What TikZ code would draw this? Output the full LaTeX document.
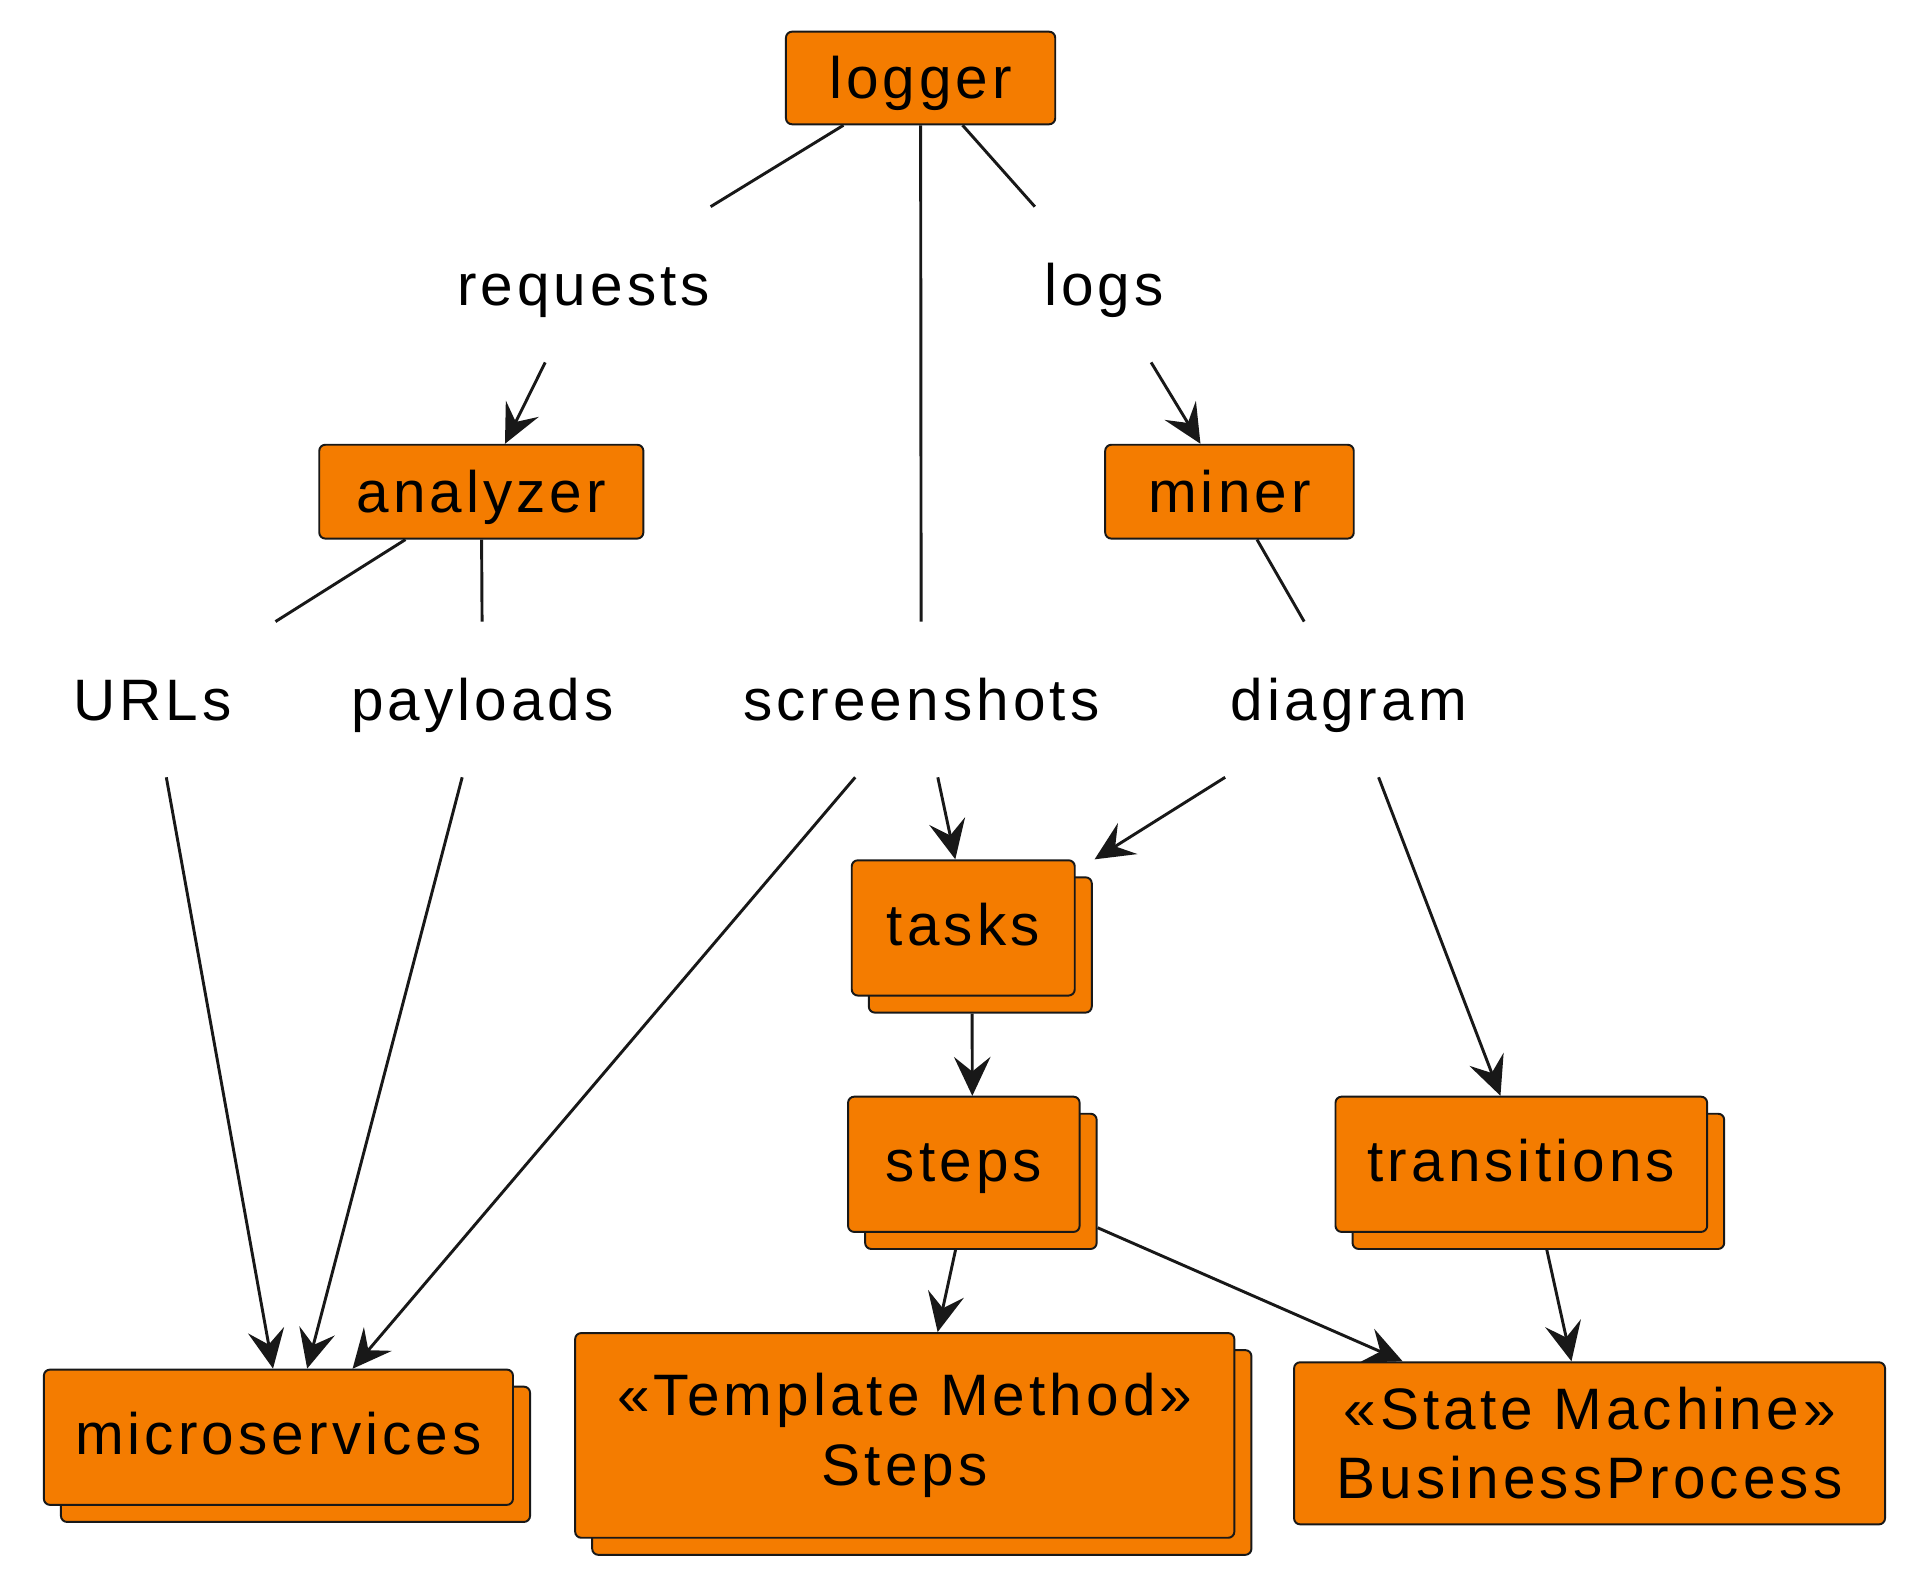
\documentclass[tikz,border=0pt]{standalone}
\usepackage{fontspec}
\setmainfont{Liberation Sans}[LetterSpace=7]
\usetikzlibrary{arrows.meta,shadows,calc}
\definecolor{orng}{HTML}{F47C00}
\definecolor{edge}{HTML}{181818}
\begin{document}
\begin{tikzpicture}[x=0.5pt,y=-0.5pt,
  every node/.style={font=\fontsize{24}{28.5}\selectfont, inner sep=0pt},
  boxbase/.style={rectangle, rounded corners=2.5pt, fill=orng, draw=edge, line width=0.8pt},
  box/.style={boxbase, text height=18pt, text depth=1pt},
  shadowed/.style={general shadow={fill=orng, draw=edge, line width=0.8pt, shadow xshift=7pt, shadow yshift=-7pt}},
  stackbox/.style={boxbase, shadowed, text height=16.5pt, text depth=2pt},
  multistack/.style={boxbase, shadowed, align=center},
  multibox/.style={boxbase, align=center},
  lbl/.style={rectangle, minimum height=63.5pt, text height=18pt, text depth=1pt},
  ln/.style={draw=edge, line width=1.2pt},
  arr/.style={ln, -{Stealth[length=16pt,width=15pt,inset=6pt]}}
]
\useasboundingbox (0,0) rectangle (1567.5,1296);

% boxes
\node[box, minimum width=110.5pt, minimum height=38pt] (logger) at (755.5,64) {logger};
\node[box, minimum width=133pt, minimum height=38.5pt] (analyzer) at (395,403.5) {analyzer};
\node[box, minimum width=102pt, minimum height=38.5pt] (miner) at (1009,403.5) {miner};

% labels
\node[lbl, minimum width=115pt] (requests) at (479,233.5) {requests};
\node[lbl, minimum width=65pt] (logs) at (906,233.5) {logs};
\node[lbl, minimum width=105pt] (urls) at (125,574) {URLs};
\node[lbl, minimum width=115pt] (payloads) at (396,574) {payloads};
\node[lbl, minimum width=160pt] (screenshots) at (756,574) {screenshots};
\node[lbl, minimum width=110pt] (diagram) at (1107,574) {diagram};

% stacked boxes
\node[stackbox, minimum width=91.5pt, minimum height=55.5pt] (tasks) at (790.5,761.5) {tasks};
\node[stackbox, minimum width=95pt, minimum height=55.5pt] (steps) at (791,955.5) {steps};
\node[stackbox, minimum width=152.5pt, minimum height=55.5pt] (transitions) at (1248.5,955.5) {transitions};
\node[stackbox, minimum width=192.5pt, minimum height=55.5pt] (micro) at (228.5,1179.5) {microservices};
\node[multistack, minimum width=270.5pt, minimum height=84pt] (templ) at (742.5,1178) {«Template Method»\\Steps};
\node[multibox, minimum width=242.5pt, minimum height=66.5pt] (state) at (1304.5,1184.5) {«State Machine»\\BusinessProcess};

% helper coordinates (centres and edges of the stacks)
\foreach \n in {tasks,steps,transitions,micro,templ}{
  \coordinate (\n C) at ($(\n.center)+(7,7)$);
  \coordinate (\n BL) at ($(\n.south west)+(14,14)$);
  \coordinate (\n BR) at ($(\n.south east)+(14,14)$);
  \coordinate (\n RT) at ($(\n.north east)+(14,14)$);
}

% plain links
\draw[ln] (logger) -- (requests);
\draw[ln] (logger) -- (screenshots);
\draw[ln] (logger) -- (logs);
\draw[ln] (analyzer) -- (urls);
\draw[ln] (analyzer) -- (payloads);
\draw[ln] (miner) -- (diagram);

% arrows
\draw[arr] (requests) -- (analyzer);
\draw[arr] (logs) -- (miner);
\draw[arr] (urls) -- (intersection of urls--microC and micro.north west--micro.north east);
\draw[arr] (payloads) -- (intersection of payloads--microC and micro.north west--micro.north east);
\draw[arr] (screenshots) -- (intersection of screenshots--microC and micro.north west--micro.north east);
\draw[arr] (screenshots) -- (intersection of screenshots--tasksC and tasks.north west--tasks.north east);
\draw[arr] (diagram) -- (intersection of diagram--tasksC and tasks.north west--tasks.north east);
\draw[arr] (diagram) -- (intersection of diagram--transitionsC and transitions.north west--transitions.north east);
\draw[arr] (intersection of tasksC--stepsC and tasksBL--tasksBR) -- (intersection of tasksC--stepsC and steps.north west--steps.north east);
\draw[arr] (intersection of stepsC--templC and stepsBL--stepsBR) -- (intersection of stepsC--templC and templ.north west--templ.north east);
\draw[arr] (intersection of stepsC--state and stepsRT--stepsBR) -- (state);
\draw[arr] (intersection of transitionsC--state and transitionsBL--transitionsBR) -- (state);
\end{tikzpicture}
\end{document}
